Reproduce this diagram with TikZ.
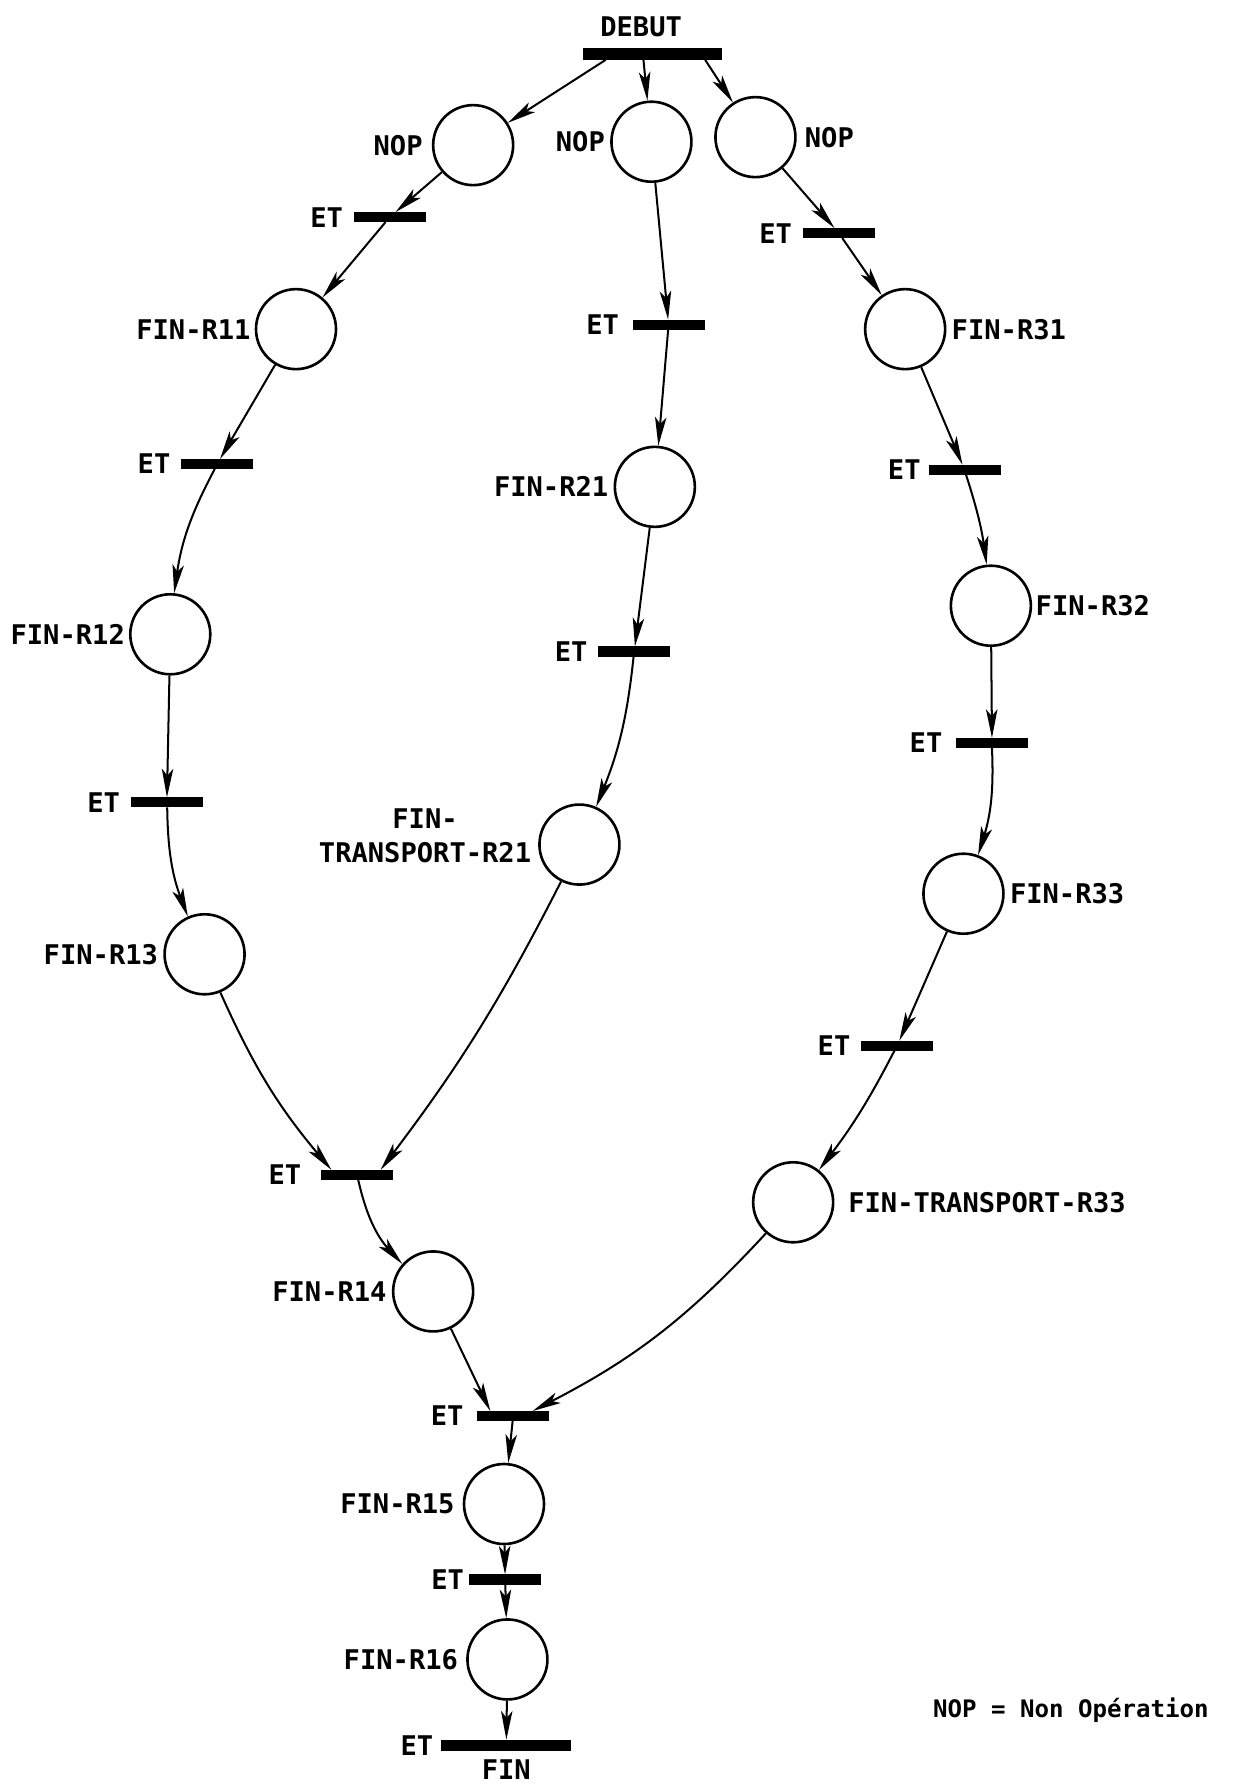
\documentclass[tikz,border=0pt]{standalone}
\usepackage{fontspec}
\setmonofont{DejaVu Sans Mono}
\usetikzlibrary{arrows.meta,positioning}

\begin{document}
\begin{tikzpicture}[
  font=\ttfamily\bfseries\fontsize{13.5}{17}\selectfont,
  >={Stealth[length=5mm,width=2mm,inset=1.2mm]},
  plc/.style ={draw,circle,minimum size=1.4cm,line width=1.3pt,inner sep=0pt},
  bar/.style ={draw,rectangle,fill=black,minimum width=1.24cm,
               minimum height=0.16cm,inner sep=0pt},
  lab/.style ={inner sep=1pt},
  flow/.style={->,line width=1pt},
]

\useasboundingbox (0,0) rectangle (21.82,-31.36);

%% =====================================================
%%  Start transition
%% =====================================================
\node[bar,minimum width=2.42cm,minimum height=0.2cm] (debut) at (11.42,-0.94) {};
\node[lab,above=0.15cm of debut,xshift=-0.2cm] (debutl) {DEBUT};

%% =====================================================
%%  Branch 1 (left)
%% =====================================================
\node[plc] (nop1) at (8.28,-2.54) {};
\node[lab,left=0.12cm of nop1] (nop1l) {NOP};
\node[bar] (t11) at (6.82,-3.80) {};
\node[lab,left=0.15cm of t11] (t11l) {ET};
\node[plc] (r11) at (5.18,-5.76) {};
\node[lab,left=0.03cm of r11] (r11l) {FIN-R11};
\node[bar] (t12) at (3.80,-8.12) {};
\node[lab,left=0.15cm of t12] (t12l) {ET};
\node[plc] (r12) at (2.98,-11.10) {};
\node[lab,left=0.03cm of r12] (r12l) {FIN-R12};
\node[bar] (t13) at (2.92,-14.04) {};
\node[lab,left=0.15cm of t13] (t13l) {ET};
\node[plc] (r13) at (3.58,-16.70) {};
\node[lab,left=0.05cm of r13] (r13l) {FIN-R13};

%% =====================================================
%%  Branch 2 (centre)
%% =====================================================
\node[plc] (nop2) at (11.40,-2.48) {};
\node[lab,left=0.05cm of nop2] (nop2l) {NOP};
\node[bar] (t21) at (11.70,-5.68) {};
\node[lab,left=0.2cm of t21] (t21l) {ET};
\node[plc] (r21) at (11.46,-8.52) {};
\node[lab,left=0.05cm of r21] (r21l) {FIN-R21};
\node[bar] (t22) at (11.10,-11.40) {};
\node[lab,left=0.15cm of t22] (t22l) {ET};
\node[plc] (tr21) at (10.14,-14.78) {};
\node[lab,left=0.08cm of tr21,yshift=0.15cm,align=center] (tr21l) {FIN-\\TRANSPORT-R21};

%% =====================================================
%%  Branch 3 (right)
%% =====================================================
\node[plc] (nop3) at (13.22,-2.40) {};
\node[lab,right=0.1cm of nop3] (nop3l) {NOP};
\node[bar] (t31) at (14.68,-4.08) {};
\node[lab,left=0.15cm of t31] (t31l) {ET};
\node[plc] (r31) at (15.84,-5.76) {};
\node[lab,right=0.05cm of r31] (r31l) {FIN-R31};
\node[bar] (t32) at (16.88,-8.22) {};
\node[lab,left=0.1cm of t32] (t32l) {ET};
\node[plc] (r32) at (17.34,-10.60) {};
\node[lab,right=0.02cm of r32] (r32l) {FIN-R32};
\node[bar] (t33) at (17.36,-13.00) {};
\node[lab,left=0.2cm of t33] (t33l) {ET};
\node[plc] (r33) at (16.86,-15.64) {};
\node[lab,right=0.05cm of r33] (r33l) {FIN-R33};
\node[bar] (t34) at (15.70,-18.30) {};
\node[lab,left=0.15cm of t34] (t34l) {ET};
\node[plc] (tr33) at (13.88,-21.04) {};
\node[lab,right=0.2cm of tr33] (tr33l) {FIN-TRANSPORT-R33};

%% =====================================================
%%  Joins and end
%% =====================================================
\node[bar] (t14) at (6.24,-20.56) {};
\node[lab,left=0.3cm of t14] (t14l) {ET};
\node[plc] (r14) at (7.58,-22.60) {};
\node[lab,left=0.05cm of r14] (r14l) {FIN-R14};
\node[bar] (t15) at (8.98,-24.78) {};
\node[lab,left=0.2cm of t15] (t15l) {ET};
\node[plc] (r15) at (8.82,-26.32) {};
\node[lab,left=0.1cm of r15] (r15l) {FIN-R15};
\node[bar] (t16) at (8.84,-27.64) {};
\node[lab,left=0.05cm of t16] (t16l) {ET};
\node[plc] (r16) at (8.88,-29.04) {};
\node[lab,left=0.1cm of r16] (r16l) {FIN-R16};
\node[bar,minimum width=2.26cm,minimum height=0.18cm] (tfin) at (8.86,-30.54) {};
\node[lab,left=0.1cm of tfin] (tfinl) {ET};
\node[lab,below=0.12cm of tfin] (finl) {FIN};

\node[lab,font=\ttfamily\bfseries\fontsize{12}{14}\selectfont] (note) at (18.74,-29.92)
     {NOP = Non Opération};

%% =====================================================
%%  Arcs
%% =====================================================
\draw[flow] ([xshift=-0.82cm]debut.south) -- (nop1);
\draw[flow] ([xshift=-0.16cm]debut.south) -- (nop2);
\draw[flow] ([xshift=0.92cm]debut.south) -- (nop3);

\draw[flow] (nop1) -- (t11);
\draw[flow] (t11) -- (r11);
\draw[flow] (r11) -- (t12);
\draw[flow] (t12) to[bend right=10] (r12);
\draw[flow] (r12) -- (t13);
\draw[flow] (t13) to[bend right=10] (r13);
\draw[flow] (r13) to[bend right=8] ([xshift=-0.44cm]t14.north);

\draw[flow] (nop2) -- (t21);
\draw[flow] (t21) -- (r21);
\draw[flow] (r21) -- (t22);
\draw[flow] (t22) to[bend left=8] (tr21);
\draw[flow] (tr21) to[bend left=5] ([xshift=0.42cm]t14.north);

\draw[flow] (nop3) -- (t31);
\draw[flow] (t31) -- (r31);
\draw[flow] (r31) -- (t32);
\draw[flow] (t32) to[bend left=5] (r32);
\draw[flow] (r32) -- (t33);
\draw[flow] (t33) to[bend left=10] (r33);
\draw[flow] (r33) -- (t34);
\draw[flow] (t34) to[bend left=5] (tr33);
\draw[flow] (tr33) to[bend left=10] ([xshift=0.34cm]t15.north);

\draw[flow] (t14) to[bend right=15] (r14);
\draw[flow] (r14) -- ([xshift=-0.4cm]t15.north);
\draw[flow] (t15) -- (r15);
\draw[flow] (r15) -- (t16);
\draw[flow] (t16) -- (r16);
\draw[flow] (r16) -- (tfin);

\end{tikzpicture}
\end{document}
